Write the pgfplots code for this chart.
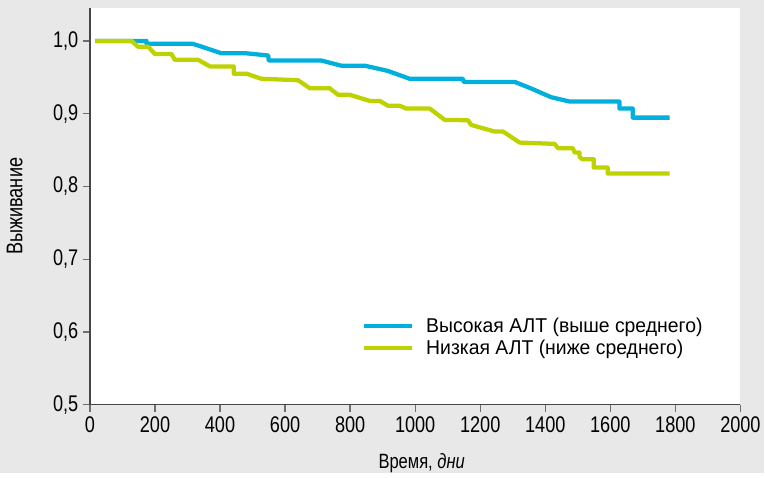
\documentclass[border=0pt]{standalone}
\usepackage{fontspec}
\setmainfont{Liberation Sans}
\newfontfamily\condfont[FakeStretch=0.8]{Liberation Sans}
\newfontfamily\legfont[FakeStretch=0.97]{Liberation Sans}
\usepackage{pgfplots}
\pgfplotsset{compat=1.18}
\definecolor{bggray}{RGB}{232,232,232}
\definecolor{axgray}{RGB}{70,70,70}
\definecolor{tickgray}{RGB}{110,110,110}
\definecolor{altblue}{RGB}{0,176,220}
\definecolor{altgreen}{RGB}{190,210,0}
\begin{document}
\begin{tikzpicture}
\fill[bggray] (-67.5pt,-51pt) rectangle (506.25pt,303.75pt);
\begin{axis}[at={(0,0)}, anchor=south west, scale only axis,
  width=488.25pt, height=297.75pt,
  xmin=0, xmax=2000, ymin=0.5, ymax=1.0453,
  axis lines=left, axis line style={-, draw=axgray, line width=1pt},
  axis background/.style={fill=white},
  xtick={0,200,...,2000}, ytick={0.5,0.6,...,1.0},
  tick align=outside, major tick length=5.25pt,
  tick style={draw=tickgray, line width=1pt},
  /pgf/number format/assume math mode=true,
  x tick label style={font=\condfont\fontsize{17}{19}\selectfont, /pgf/number format/1000 sep={}},
  y tick label style={font=\condfont\fontsize{17}{19}\selectfont,
    /pgf/number format/.cd, use comma, fixed, fixed zerofill, precision=1},
  xlabel={Время, \textit{дни}}, ylabel={Выживание},
  xlabel style={font=\condfont\fontsize{15.5}{17}\selectfont, at={(axis description cs:0.51,0)}, anchor=north, yshift=-33pt},
  ylabel style={font=\condfont\fontsize{17}{19}\selectfont, at={(axis description cs:0,0.5)}, anchor=south, yshift=47pt},
  legend style={draw=none, fill=none, inner sep=0pt, font=\legfont\fontsize{15}{19.5}\selectfont,
    at={(axis description cs:0.418,0.226)}, anchor=north west},
  legend cell align=left,
  legend image code/.code={\draw[line width=3pt] (0pt,0pt) -- (36pt,0pt); \path (43pt,0pt);},
]
\addplot[altblue, line width=3.2pt, line join=round] coordinates {
  (17,1.0)(174,1.0)(174,0.996)(317,0.996)(405,0.983)(481,0.983)(548,0.980)
  (550,0.973)(712,0.973)(773,0.966)(845,0.966)(916,0.9588)(983,0.948)
  (1147,0.948)(1149,0.9437)(1306,0.9437)(1360,0.934)(1418,0.9227)(1475,0.9167)
  (1628,0.9167)(1628,0.907)(1669,0.907)(1669,0.8946)(1782,0.8946)};
\addlegendentry{Высокая АЛТ (выше среднего)}
\addplot[altgreen, line width=3.2pt, line join=round] coordinates {
  (17,1.0)(128,1.0)(148,0.992)(179,0.992)(200,0.982)(251,0.982)(261,0.974)
  (333,0.974)(369,0.965)(442,0.965)(442,0.955)(481,0.955)(527,0.948)(640,0.946)
  (676,0.935)(737,0.935)(763,0.926)(799,0.926)(860,0.9176)(891,0.9176)
  (916,0.911)(952,0.911)(973,0.907)(1045,0.907)(1091,0.8915)(1162,0.891)
  (1172,0.8846)(1244,0.8755)(1270,0.8755)(1321,0.8603)(1429,0.8585)
  (1439,0.8526)(1485,0.8526)(1490,0.8466)(1505,0.8466)(1505,0.841)
  (1513,0.8375)(1549,0.8375)(1549,0.826)(1592,0.826)(1592,0.8177)(1782,0.8177)};
\addlegendentry{Низкая АЛТ (ниже среднего)}
\end{axis}
\end{tikzpicture}
\end{document}
